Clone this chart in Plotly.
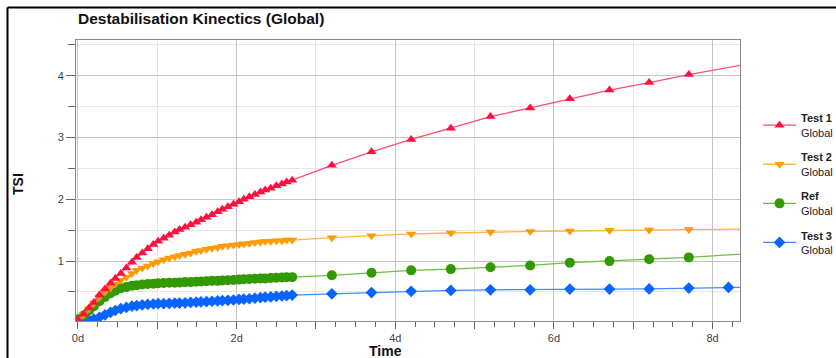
import plotly.graph_objects as go

# ---------------- data ----------------
t_dense = [0, 0.07, 0.14, 0.2, 0.27, 0.34, 0.41, 0.47, 0.54, 0.61, 0.68, 0.74, 0.81, 0.88, 0.95,
           1.01, 1.08, 1.15, 1.22, 1.28, 1.35, 1.42, 1.49, 1.55, 1.62, 1.69, 1.76, 1.82, 1.89, 1.96,
           2.03, 2.09, 2.16, 2.23, 2.3, 2.36, 2.43, 2.5, 2.57, 2.63, 2.7]
t_sparse = [3.2, 3.7, 4.2, 4.7, 5.2, 5.7, 6.2, 6.7, 7.2, 7.7]
t_sparse_test3 = [3.2, 3.7, 4.2, 4.7, 5.2, 5.7, 6.2, 6.7, 7.2, 7.7, 8.2]
t_tail = [8.7]

test1_dense = [0.05, 0.14, 0.24, 0.33, 0.45, 0.55, 0.64, 0.72, 0.80, 0.89, 0.98, 1.06, 1.13, 1.20, 1.27,
               1.32, 1.37, 1.42, 1.47, 1.51, 1.55, 1.59, 1.63, 1.67, 1.71, 1.75, 1.80, 1.84, 1.88, 1.92,
               1.96, 2.00, 2.04, 2.08, 2.12, 2.15, 2.18, 2.22, 2.25, 2.28, 2.31]
test1_sparse = [2.55, 2.77, 2.97, 3.15, 3.34, 3.48, 3.63, 3.77, 3.89, 4.02]
test1_tail = [4.25]

test2_dense = [0.05, 0.13, 0.23, 0.32, 0.42, 0.50, 0.57, 0.63, 0.69, 0.74, 0.80, 0.85, 0.89, 0.92, 0.96,
               0.99, 1.02, 1.05, 1.07, 1.09, 1.11, 1.13, 1.16, 1.17, 1.19, 1.21, 1.22, 1.24, 1.25, 1.26,
               1.27, 1.28, 1.29, 1.30, 1.31, 1.32, 1.32, 1.33, 1.33, 1.34, 1.34]
test2_sparse = [1.38, 1.41, 1.44, 1.455, 1.47, 1.48, 1.487, 1.498, 1.503, 1.51]
test2_tail = [1.52]

ref_dense = [0.06, 0.12, 0.20, 0.27, 0.35, 0.42, 0.48, 0.52, 0.56, 0.58, 0.60, 0.61, 0.62, 0.63, 0.635,
             0.64, 0.645, 0.65, 0.65, 0.655, 0.66, 0.66, 0.665, 0.67, 0.675, 0.68, 0.68, 0.685, 0.69, 0.695,
             0.70, 0.705, 0.71, 0.715, 0.72, 0.72, 0.725, 0.73, 0.735, 0.74, 0.74]
ref_sparse = [0.77, 0.81, 0.85, 0.87, 0.90, 0.93, 0.975, 1.00, 1.03, 1.06]
ref_tail = [1.14]

test3_dense = [0.02, 0.03, 0.04, 0.06, 0.09, 0.13, 0.17, 0.20, 0.23, 0.25, 0.27, 0.28, 0.29, 0.30, 0.305,
               0.31, 0.31, 0.315, 0.32, 0.32, 0.325, 0.33, 0.335, 0.34, 0.345, 0.35, 0.355, 0.36, 0.365, 0.37,
               0.38, 0.385, 0.39, 0.40, 0.41, 0.415, 0.42, 0.43, 0.435, 0.44, 0.45]
test3_sparse = [0.47, 0.49, 0.51, 0.525, 0.535, 0.535, 0.547, 0.547, 0.55, 0.563, 0.574]
test3_tail = [0.58]

x_tickvals = [0, 2, 4, 6, 8]
x_ticktext = ["0d", "2d", "4d", "6d", "8d"]
y_tickvals = [1, 2, 3, 4]
y_ticktext = ["1", "2", "3", "4"]

FONT = "Liberation Sans, Arial, sans-serif"

series = [
    # name, legend rank, times, values, marker symbol, marker colour, line colour, marker size
    ("<b>Test 3</b><br>Global", 4, t_dense + t_sparse_test3 + t_tail, test3_dense + test3_sparse + test3_tail,
     "diamond", "#0a64ff", "#3f8cff", 9),
    ("<b>Ref</b><br>Global", 3, t_dense + t_sparse + t_tail, ref_dense + ref_sparse + ref_tail,
     "circle", "#339900", "#6cbf45", 10),
    ("<b>Test 2</b><br>Global", 2, t_dense + t_sparse + t_tail, test2_dense + test2_sparse + test2_tail,
     "triangle-down", "#ff9a00", "#ffb547", 9),
    ("<b>Test 1</b><br>Global", 1, t_dense + t_sparse + t_tail, test1_dense + test1_sparse + test1_tail,
     "triangle-up", "#ff1040", "#ff4d70", 9),
]

fig = go.Figure()
for i, (name, rank, xs, ys, sym, mcol, lcol, msize) in enumerate(series):
    fig.add_trace(go.Scatter(
        x=xs, y=ys, name=name, mode="lines+markers", legendgroup=f"g{i}", legendrank=rank,
        line=dict(color=lcol, width=1.3),
        marker=dict(symbol=sym, color=mcol, size=msize, line=dict(width=0)),
        cliponaxis=True,
    ))

# overlay axis for the quarter-day small ticks
fig.add_trace(go.Scatter(x=[0], y=[None], xaxis="x2", showlegend=False, hoverinfo="skip"))

XR = [-0.025, 8.345]
YR = [0.03, 4.58]

fig.update_layout(
    width=836, height=358,
    margin=dict(l=76, r=96, t=40, b=37, autoexpand=False),
    paper_bgcolor="white", plot_bgcolor="white",
    font=dict(family=FONT, size=11, color="#444"),
    showlegend=True,
    legend=dict(
        x=(758 - 76) / 664, xanchor="left", y=0.771, yanchor="top",
        traceorder="grouped",
        font=dict(family=FONT, size=11, color="#222"),
        bgcolor="rgba(0,0,0,0)", borderwidth=0,
        itemwidth=33, tracegroupgap=7.5,
    ),
    xaxis=dict(
        range=XR, tickmode="array", tickvals=x_tickvals, ticktext=x_ticktext,
        showgrid=True, gridcolor="#c4c4c4", gridwidth=1,
        ticks="outside", ticklen=7, tickcolor="#666", tickwidth=1,
        minor=dict(dtick=1, tick0=0, showgrid=True, gridcolor="#e4e4e4", gridwidth=1,
                   ticks="outside", ticklen=7, tickcolor="#666"),
        showline=True, linecolor="#8a8a8a", linewidth=1, mirror=True,
        zeroline=False, tickfont=dict(family=FONT, size=11, color="#444"),
    ),
    xaxis2=dict(
        range=XR, overlaying="x", anchor="y", side="bottom",
        tickmode="linear", tick0=0, dtick=0.25, ticks="outside", ticklen=5,
        tickcolor="#666", showticklabels=False, showgrid=False, zeroline=False, showline=False,
    ),
    yaxis=dict(
        range=YR, tickmode="array", tickvals=y_tickvals, ticktext=y_ticktext,
        showgrid=True, gridcolor="#c4c4c4", gridwidth=1,
        ticks="outside", ticklen=9, tickcolor="#666",
        minor=dict(dtick=0.5, tick0=0, showgrid=True, gridcolor="#e6e6e6", gridwidth=1,
                   ticks="outside", ticklen=7, tickcolor="#666"),
        showline=True, linecolor="#8a8a8a", linewidth=1, mirror=True,
        zeroline=False, tickfont=dict(family=FONT, size=11, color="#444"),
    ),
    annotations=[
        dict(text="<b>Destabilisation Kinectics (Global)</b>", xref="paper", yref="paper",
             x=0.0, y=1 + (40 - 18) / 281, xanchor="left", yanchor="middle", showarrow=False,
             font=dict(family=FONT, size=15.5, color="#111")),
        dict(text="<b>TSI</b>", xref="paper", yref="paper", x=(18 - 76) / 664, y=(321 - 184) / 281,
             xanchor="center", yanchor="middle", textangle=-90, showarrow=False,
             font=dict(family=FONT, size=14, color="#111")),
        dict(text="<b>Time</b>", xref="paper", yref="paper", x=(385 - 76) / 664, y=(321 - 351) / 281,
             xanchor="center", yanchor="middle", showarrow=False,
             font=dict(family=FONT, size=14, color="#111")),
    ],
    shapes=[
        dict(type="line", xref="paper", yref="paper", x0=(7.5 - 76) / 664, x1=1.2,
             y0=1 + (40 - 7.5) / 281, y1=1 + (40 - 7.5) / 281, line=dict(color="black", width=2)),
        dict(type="line", xref="paper", yref="paper", x0=(7.5 - 76) / 664, x1=(7.5 - 76) / 664,
             y0=1 + (40 - 7.5) / 281, y1=-0.3, line=dict(color="black", width=2)),
    ],
)

fig.write_html("out.html", config={"displayModeBar": False},
               post_script="document.body.style.margin='0';document.body.style.overflow='hidden';")
